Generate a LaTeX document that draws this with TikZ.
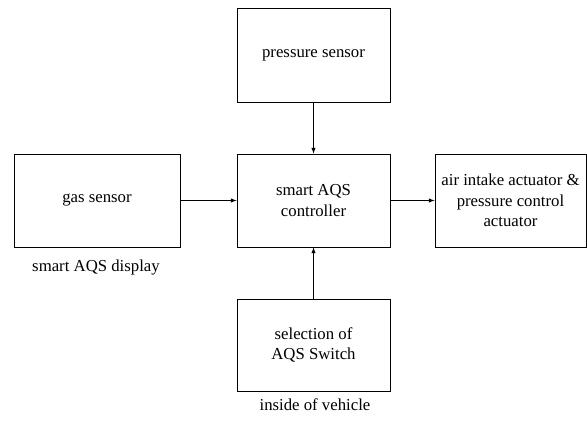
\documentclass[tikz,border=0pt]{standalone}
\usepackage{fontspec}
\setmainfont{Liberation Serif}
\usetikzlibrary{shapes,arrows,positioning}

\begin{document}
\begin{tikzpicture}[
  block/.style={draw, line width=0.7pt, minimum width=4.59cm, minimum height=2.79cm, align=center, font=\fontsize{14.3}{17.5}\selectfont},
  note/.style={font=\fontsize{14.3}{17.5}\selectfont},
  link/.style={-latex, line width=0.7pt}]
\useasboundingbox (0,0) rectangle (17.61,13.02);
\node[block, minimum height=2.82cm] (pressure) at (9.405,11.37) {pressure sensor};
\node[block] (controller) at (9.405,7.005) {smart AQS\\controller};
\node[block, minimum width=4.98cm] (gas) at (2.91,7.005) {gas sensor};
\node[block, minimum width=4.53cm] (actuator) at (15.315,7.005) {air intake actuator \&\\pressure control\\actuator};
\node[block, minimum height=2.76cm] (switch) at (9.405,2.67) {selection of\\AQS Switch};
\node[note] (display) at (2.88,5.01) {smart AQS display};
\node[note] (vehicle) at (9.45,0.87) {inside of vehicle};
\draw[link] (pressure) -- (controller);
\draw[link] (gas) -- (controller);
\draw[link] (controller) -- (actuator);
\draw[link] (switch) -- (controller);
\end{tikzpicture}
\end{document}
